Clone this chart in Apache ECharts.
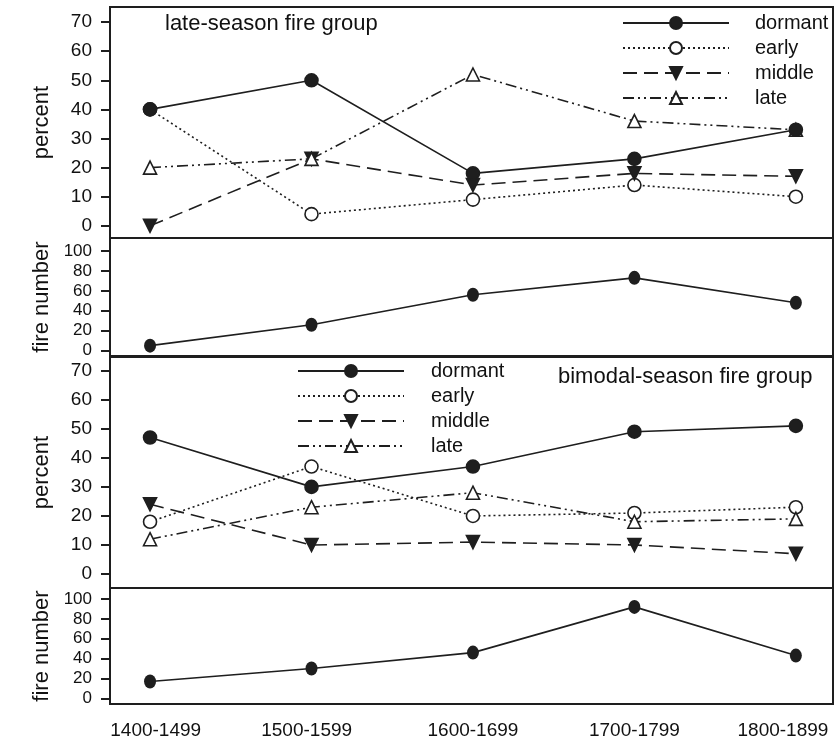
<!DOCTYPE html>
<html>
<head>
<meta charset="utf-8">
<script src="https://cdn.jsdelivr.net/npm/echarts@6/dist/echarts.min.js"></script>
<style>
  html, body { margin: 0; padding: 0; background: #fff; }
  #main { width: 836px; height: 743px; }
</style>
</head>
<body>
<div id="main"></div>
<script>
// categories and values
var periods = ['1400-1499', '1500-1599', '1600-1699', '1700-1799', '1800-1899'];
var seasonNames = ['dormant', 'early', 'middle', 'late'];

// late-season fire group, percent
var lateDormant = [40, 50, 18, 23, 33];
var lateEarly = [40, 4, 9, 14, 10];
var lateMiddle = [0, 23, 14, 18, 17];
var lateLate = [20, 23, 52, 36, 33];
var lateFireNumber = [5, 26, 56, 73, 48];

// bimodal-season fire group, percent
var bimDormant = [47, 30, 37, 49, 51];
var bimEarly = [18, 37, 20, 21, 23];
var bimMiddle = [24, 10, 11, 10, 7];
var bimLate = [12, 23, 28, 18, 19];
var bimFireNumber = [17, 30, 46, 92, 43];

var percentTicks = [0, 10, 20, 30, 40, 50, 60, 70];
var fireTicks = [0, 20, 40, 60, 80, 100];

var ink = '#1e1e1e';
var font = 'Liberation Sans, Arial, sans-serif';

var myChart = echarts.init(document.getElementById('main'));

function pts(arr) {
    return arr.map(function (v, i) { return [i, v]; });
}

// style of each season line
var styles = {
    dormant: { symbol: 'circle', fill: ink, dash: 'solid', rotate: 0 },
    early: { symbol: 'circle', fill: '#fff', dash: [2, 3], rotate: 0 },
    middle: { symbol: 'triangle', fill: ink, dash: [14, 7], rotate: 180 },
    late: { symbol: 'triangle', fill: '#fff', dash: [11, 4, 2, 4, 2, 4], rotate: 0 }
};

function seasonSerie(name, values, gridIdx) {
    var s = styles[name];
    return {
        name: name,
        type: 'line',
        xAxisIndex: gridIdx,
        yAxisIndex: gridIdx,
        data: pts(values),
        symbol: s.symbol,
        symbolSize: 13,
        symbolRotate: s.rotate,
        showAllSymbol: true,
        lineStyle: { color: ink, width: 1.6, type: s.dash },
        itemStyle: { color: s.fill, borderColor: ink, borderWidth: 1.6 },
        z: name === 'dormant' ? 3 : 2
    };
}

function fireSerie(name, values, gridIdx) {
    return {
        name: name,
        type: 'line',
        xAxisIndex: gridIdx,
        yAxisIndex: gridIdx,
        data: pts(values),
        symbol: 'circle',
        symbolSize: [12, 14],
        lineStyle: { color: ink, width: 1.6 },
        itemStyle: { color: ink }
    };
}

var grids = [
    { top: 7, height: 231 },
    { top: 238, height: 118 },
    { top: 357, height: 231 },
    { top: 588, height: 116 }
];
grids.forEach(function (g) {
    g.left = 110;
    g.right = 3;
    g.show = true;
    g.borderColor = ink;
    g.borderWidth = 2;
    g.backgroundColor = 'transparent';
    g.containLabel = false;
    g.outerBoundsMode = 'none';
});

function xAxisFor(idx, showLabels) {
    return {
        type: 'value',
        gridIndex: idx,
        min: -0.248,
        max: 4.23,
        axisLine: { show: false, onZero: false },
        axisTick: { show: false },
        splitLine: { show: false },
        axisLabel: {
            show: showLabels,
            // label spots sit a little inward at the ends, as in the figure
            customValues: [0.035, 0.97, 2, 3, 3.92],
            formatter: function (v) { return periods[Math.round(v)]; },
            color: '#111',
            fontSize: 19,
            fontFamily: font,
            margin: 17,
            hideOverlap: false
        }
    };
}

function yAxisFor(idx, name, min, max, ticks, fontSize) {
    return {
        type: 'value',
        gridIndex: idx,
        min: min,
        max: max,
        name: name,
        nameLocation: 'middle',
        nameGap: 57,
        nameTextStyle: { fontSize: 22, color: '#111', fontFamily: font },
        axisLine: { show: false, onZero: false },
        splitLine: { show: false },
        axisTick: { show: true, customValues: ticks, length: 9, lineStyle: { color: ink, width: 2 } },
        axisLabel: {
            customValues: ticks,
            color: '#111',
            fontSize: fontSize,
            fontFamily: font,
            margin: 18
        }
    };
}

var option = {
    backgroundColor: '#fff',
    animation: false,
    title: [
        {
            text: 'late-season fire group', left: 165, top: 13, padding: 0,
            textStyle: { fontSize: 22, fontWeight: 'normal', color: '#111', fontFamily: font }
        },
        {
            text: 'bimodal-season fire group', left: 558, top: 366, padding: 0,
            textStyle: { fontSize: 22, fontWeight: 'normal', color: '#111', fontFamily: font }
        }
    ],
    legend: [
        {
            data: seasonNames, orient: 'vertical', left: 622, top: 13, padding: 0,
            itemWidth: 106, itemHeight: 15, itemGap: 5,
            textStyle: { fontSize: 20, lineHeight: 20, color: '#111', fontFamily: font, padding: [0, 0, 0, 21] }
        },
        {
            data: seasonNames, orient: 'vertical', left: 297, top: 361, padding: 0,
            itemWidth: 106, itemHeight: 15, itemGap: 5,
            textStyle: { fontSize: 20, lineHeight: 20, color: '#111', fontFamily: font, padding: [0, 0, 0, 22] }
        }
    ],
    grid: grids,
    xAxis: [xAxisFor(0, false), xAxisFor(1, false), xAxisFor(2, false), xAxisFor(3, true)],
    yAxis: [
        yAxisFor(0, 'percent', -4.2, 75.2, percentTicks, 19),
        yAxisFor(1, 'fire number', -5.4, 113, fireTicks, 17),
        yAxisFor(2, 'percent', -4.8, 74.7, percentTicks, 19),
        yAxisFor(3, 'fire number', -5.7, 111, fireTicks, 17)
    ],
    series: [
        seasonSerie('dormant', lateDormant, 0),
        seasonSerie('early', lateEarly, 0),
        seasonSerie('middle', lateMiddle, 0),
        seasonSerie('late', lateLate, 0),
        fireSerie('late fire number', lateFireNumber, 1),
        seasonSerie('dormant', bimDormant, 2),
        seasonSerie('early', bimEarly, 2),
        seasonSerie('middle', bimMiddle, 2),
        seasonSerie('late', bimLate, 2),
        fireSerie('bimodal fire number', bimFireNumber, 3)
    ]
};

myChart.setOption(option);
</script>
</body>
</html>
